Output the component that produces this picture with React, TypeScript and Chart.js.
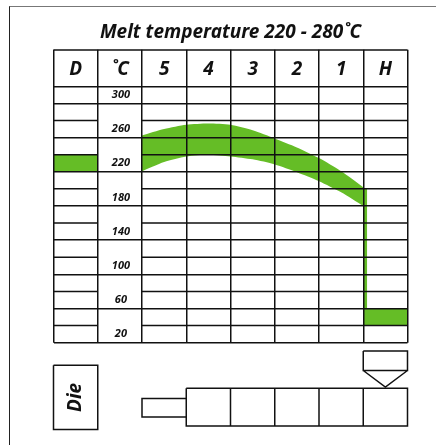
import React, { useEffect, useRef } from "react";
import { Chart, registerables } from "chart.js";

Chart.register(...registerables);

const TITLE = "Melt temperature 220 - 280˚C";
const FONT = "'Noto Sans', 'Open Sans', sans-serif";
const INK = "#111111";
const GREEN = "#65BD26";

const columns = ["D", "˚C", "5", "4", "3", "2", "1", "H"];
const tempLabels = [300, 260, 220, 180, 140, 100, 60, 20];
const fullRowLines = [10, 50, 90, 130, 170, 210, 250, 290, 310];
const brokenRowLines = [30, 70, 110, 150, 190, 230, 270];
const headerTop = 352.4;

const bandX = [2, 2.5, 3, 3.5, 4, 4.5, 5, 5.5, 6, 6.5, 7];
const bandUpper = [252.5, 260, 265, 266.5, 265, 258.5, 249, 238.5, 226, 210.5, 192];
const bandLower = [210.7, 221.5, 228, 230, 228, 224.5, 218.5, 209.5, 199, 186, 170];

const dieZone = { x: [0, 1], top: 230, bottom: 210 };
const hopperZone = { x: [7, 8], top: 50, bottom: 30 };
const dropZone = { x: [7, 7.09], top: 190, bottom: 50 };

type P = { x: number; y: number } | { x: null; y: null };
const pts = (rows: (number[] | null)[]): P[] =>
  rows.map((r) => (r ? { x: r[0], y: r[1] } : { x: null, y: null }));

const barrelShape = [
  [3, -43.2], [8, -43.2], [8, -87.4], [3, -87.4], [3, -43.2], null,
  [4, -43.2], [4, -87.4], null,
  [5, -43.2], [5, -87.4], null,
  [6, -43.2], [6, -87.4], null,
  [7, -43.2], [7, -87.4],
];
const nozzleShape = [[3, -55.4], [2, -55.4], [2, -76.8], [3, -76.8]];
const feedShape = [
  [7, 0.4], [8, 0.4], [8, -22.5], [7, -22.5], [7, 0.4], null,
  [7, -22.5], [7.5, -42], [8, -22.5],
];
const dieBox = [[0, -16.5], [1, -16.5], [1, -91.5], [0, -91.5], [0, -16.5]];
const dieLabel = { text: "Die", x: 0.5, y: -54 };

const stroke = (rows: (number[] | null)[], width = 1.5) => ({
  data: pts(rows),
  borderColor: INK,
  borderWidth: width,
  backgroundColor: "transparent",
  pointRadius: 0,
  fill: false,
  clip: false,
  spanGaps: false,
  tension: 0,
});

const area = (xs: number[], top: number[], fill: any) => ({
  data: xs.map((x, i) => ({ x, y: top[i] })),
  borderWidth: 0,
  borderColor: GREEN,
  backgroundColor: GREEN,
  pointRadius: 0,
  fill,
  tension: 0.25,
});

export default function App() {
  const ref = useRef<HTMLCanvasElement>(null);
  useEffect(() => {
    if (!ref.current) return;
    const placeLabels = {
      id: "placeLabels",
      afterLayout(chart: any) {
        const s = chart.scales.yLabel;
        const x = chart.scales.x;
        s.left = x.getPixelForValue(1);
        s.right = x.getPixelForValue(2);
        s._labelItems = null;
      },
      afterDatasetsDraw(chart: any) {
        const { ctx, scales } = chart;
        ctx.save();
        ctx.translate(scales.x.getPixelForValue(dieLabel.x), scales.y.getPixelForValue(dieLabel.y));
        ctx.rotate(-Math.PI / 2);
        ctx.font = `italic bold 19px ${FONT}`;
        ctx.fillStyle = INK;
        ctx.textAlign = "center";
        ctx.textBaseline = "middle";
        ctx.fillText(dieLabel.text, 0, 0);
        ctx.restore();
      },
    };
    const chart = new Chart(ref.current, {
      type: "line",
      data: {
        datasets: [
          stroke([[0, headerTop], [8, headerTop]]),
          stroke(brokenRowLines.flatMap((v) => [[0, v], [1, v], null, [2, v], [8, v], null])),
          stroke(barrelShape),
          stroke(nozzleShape),
          stroke(feedShape),
          stroke(dieBox),
          area(bandX, bandUpper, "+1"),
          area(bandX, bandLower, false),
          area(dieZone.x, [dieZone.top, dieZone.top], { value: dieZone.bottom }),
          area(hopperZone.x, [hopperZone.top, hopperZone.top], { value: hopperZone.bottom }),
          area(dropZone.x, [dropZone.top, dropZone.top], { value: dropZone.bottom }),
        ] as any,
      },
      options: {
        animation: false,
        responsive: false,
        events: [],
        layout: { padding: { left: 53.5, right: 28.5, top: 13, bottom: 102.3 } },
        plugins: {
          legend: { display: false },
          tooltip: { enabled: false },
          title: {
            display: true,
            text: TITLE,
            color: INK,
            fullSize: false,
            font: { family: FONT, size: 19, weight: "bold", style: "italic" },
            padding: { top: 8, bottom: 6 },
          },
        },
        scales: {
          x: {
            type: "linear",
            position: "top",
            min: 0,
            max: 8,
            afterBuildTicks(s: any) {
              const t = [];
              for (let i = 0; i <= 16; i++) t.push({ value: i / 2 });
              s.ticks = t;
            },
            afterFit(s: any) {
              s.height = 36.5;
            },
            grid: {
              z: 1,
              lineWidth: 1.5,
              tickLength: 36.5,
              color: (c: any) => (c.tick && Number.isInteger(c.tick.value) ? INK : "transparent"),
            },
            border: { display: false },
            ticks: {
              autoSkip: false,
              maxRotation: 0,
              minRotation: 0,
              padding: -31,
              color: INK,
              font: { family: FONT, size: 19, weight: "bold", style: "italic" },
              callback: (v: any) => (Number.isInteger(v) ? "" : columns[Math.floor(v)]),
            },
          },
          y: {
            type: "linear",
            min: 10,
            max: 310,
            afterBuildTicks(s: any) {
              s.ticks = fullRowLines.map((value) => ({ value }));
            },
            grid: { z: 1, lineWidth: 1.5, color: INK, drawTicks: false },
            border: { display: false },
            ticks: { display: false },
          },
          yLabel: {
            type: "linear",
            position: "left",
            min: 10,
            max: 310,
            afterBuildTicks(s: any) {
              s.ticks = tempLabels.map((value) => ({ value }));
            },
            afterFit(s: any) {
              s.width = 0;
            },
            grid: { display: false, drawTicks: false },
            border: { display: false },
            ticks: {
              autoSkip: false,
              crossAlign: "center",
              padding: 12,
              color: INK,
              font: { family: FONT, size: 11, weight: "bold", style: "italic" },
            },
          },
        },
      } as any,
      plugins: [placeLabels],
    });
    return () => chart.destroy();
  }, []);
  return (
    <div style={{ position: "absolute", left: 0, top: 0, width: 436, height: 445, overflow: "hidden", background: "#fff" }}>
      <div style={{ position: "absolute", left: 9, top: 6, width: 427, height: 439, borderTop: "1px solid #777", borderLeft: "1px solid #222", boxSizing: "border-box" }} />
      <canvas ref={ref} width={436} height={445} style={{ position: "absolute", left: 0, top: 0, display: "block" }} />
    </div>
  );
}
